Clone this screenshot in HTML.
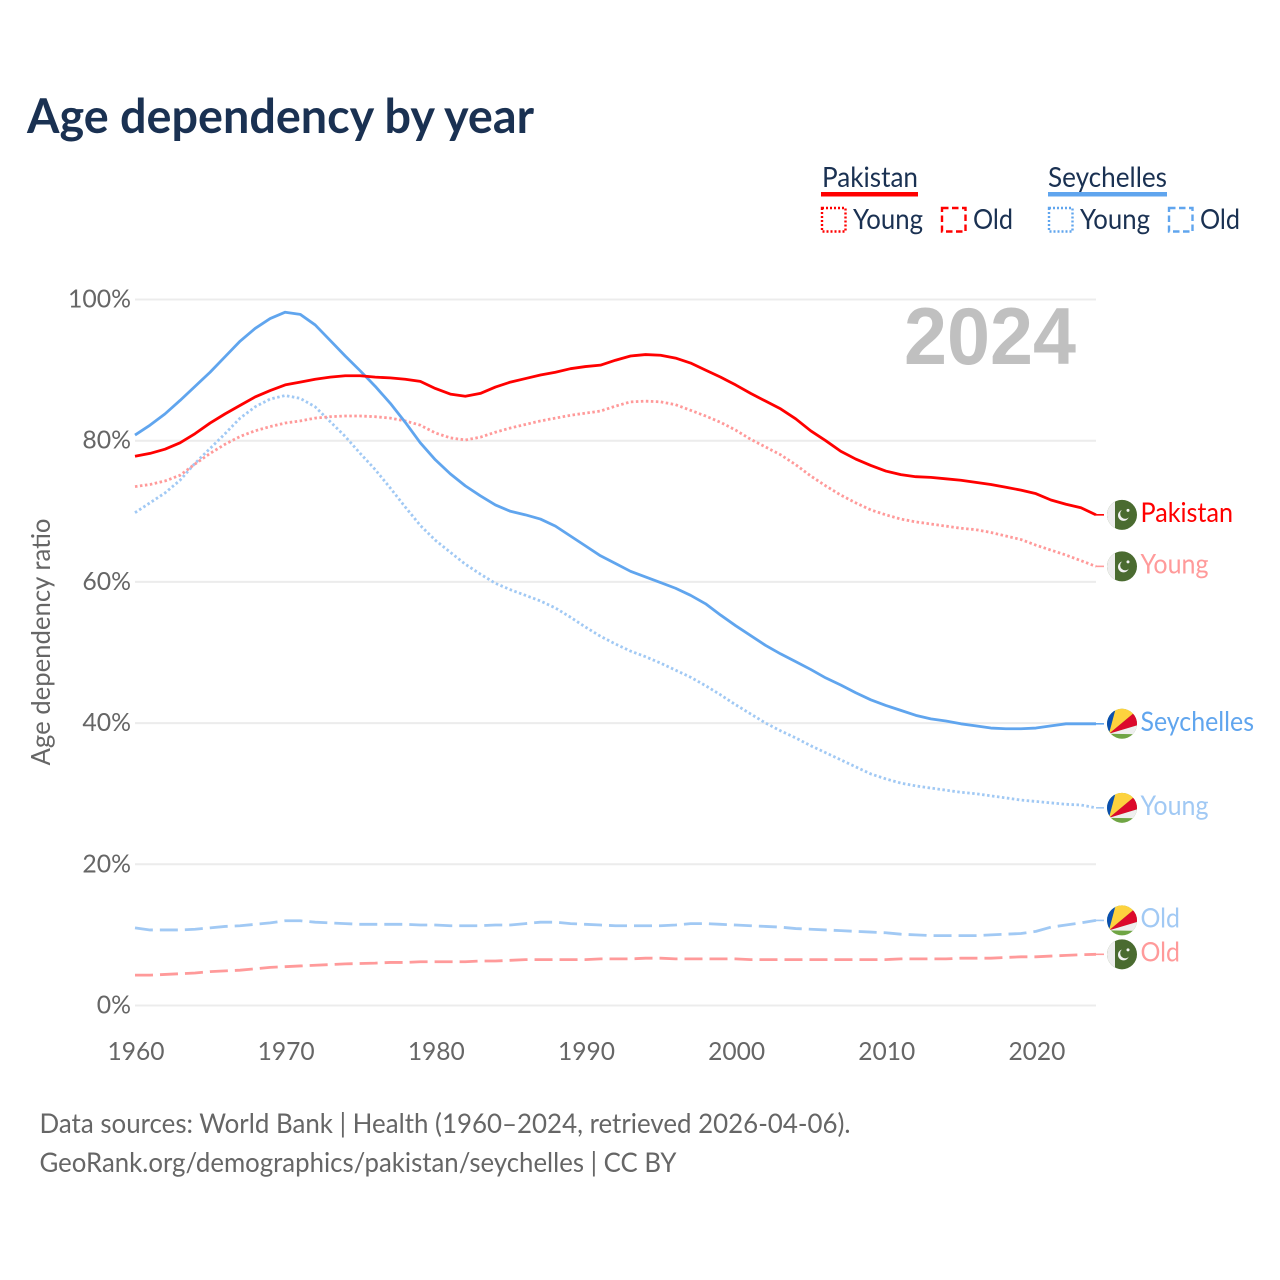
<!DOCTYPE html>
<html>
<head>
<meta charset="utf-8">
<title>Age dependency by year</title>
<style>
html,body{margin:0;padding:0;background:#fff;}
svg{display:block;}
text{font-family:"Lato","Carlito","Liberation Sans",sans-serif;}
</style>
</head>
<body>
<svg id="chart" xmlns="http://www.w3.org/2000/svg" width="1280" height="1280" viewBox="0 0 1280 1280">
  <defs>
    <clipPath id="flag-clip"><circle cx="0" cy="0" r="15"/></clipPath>
    <symbol id="flag-pk" overflow="visible">
      <g clip-path="url(#flag-clip)">
        <rect x="-16" y="-16" width="32" height="32" fill="#4a6b30"/>
        <rect x="-16" y="-16" width="9" height="32" fill="#eeeeee"/>
        <circle cx="1.5" cy="0.5" r="5.5" fill="#f2f2f2"/>
        <circle cx="3.2" cy="-1" r="5" fill="#4a6b30"/>
        <circle cx="6" cy="-4.5" r="1.5" fill="#f2f2f2"/>
      </g>
    </symbol>
    <symbol id="flag-sc" overflow="visible">
      <g clip-path="url(#flag-clip)">
        <rect x="-16" y="-16" width="32" height="32" fill="#6fa544"/>
        <polygon points="-13,10 -20,-20 -5,-20" fill="#0a4fb0"/>
        <polygon points="-13,10 -5,-20 20,-20 11,-10" fill="#fdd23e"/>
        <polygon points="-13,10 11,-10 20,-14 20,0" fill="#dc0a2c"/>
        <polygon points="-13,10 20,0 20,10.500" fill="#efefef"/>
      </g>
    </symbol>
  </defs>

  <text x="27" y="133" font-size="48" font-weight="700" fill="#1a3152" textLength="507" lengthAdjust="spacingAndGlyphs">Age dependency by year</text>

  <g font-size="27.8" fill="#1a3152">
    <text x="822" y="187" textLength="96" lengthAdjust="spacingAndGlyphs">Pakistan</text>
    <rect x="821" y="192" width="97" height="4.5" fill="#ff0000"/>
    <rect x="822" y="208" width="23.500" height="23.500" fill="none" stroke="#ff0000" stroke-width="2.4" stroke-dasharray="2 2"/>
    <text x="853" y="229" textLength="70" lengthAdjust="spacingAndGlyphs">Young</text>
    <rect x="942" y="208" width="23.500" height="23.500" fill="none" stroke="#ff0000" stroke-width="2.4" stroke-dasharray="6.500 3.500"/>
    <text x="973" y="229" textLength="40" lengthAdjust="spacingAndGlyphs">Old</text>
    <text x="1048" y="187" textLength="119" lengthAdjust="spacingAndGlyphs">Seychelles</text>
    <rect x="1048" y="192" width="119" height="4.5" fill="#60a5ee"/>
    <rect x="1049" y="208" width="23.500" height="23.500" fill="none" stroke="#60a5ee" stroke-width="2.4" stroke-dasharray="2 2"/>
    <text x="1080" y="229" textLength="70" lengthAdjust="spacingAndGlyphs">Young</text>
    <rect x="1169" y="208" width="23.500" height="23.500" fill="none" stroke="#60a5ee" stroke-width="2.4" stroke-dasharray="6.500 3.500"/>
    <text x="1200" y="229" textLength="40" lengthAdjust="spacingAndGlyphs">Old</text>
  </g>

  <g id="grid"></g>
  <g id="yticks"></g>
  <g id="xticks"></g>

  <text transform="translate(50,642) rotate(-90)" text-anchor="middle" font-size="25.8" fill="#666666" textLength="247" lengthAdjust="spacingAndGlyphs">Age dependency ratio</text>

  <text x="904" y="364" font-size="81" font-weight="700" fill="#c0c0c0" textLength="172" lengthAdjust="spacingAndGlyphs" style="font-family:'Liberation Sans',sans-serif">2024</text>

  <g id="series"></g>
  <g id="ends"></g>

  <g font-size="26.8" fill="#666666">
    <text x="39.5" y="1133" textLength="811" lengthAdjust="spacingAndGlyphs">Data sources: World Bank | Health (1960–2024, retrieved 2026-04-06).</text>
    <text x="39.5" y="1172" textLength="637" lengthAdjust="spacingAndGlyphs">GeoRank.org/demographics/pakistan/seychelles | CC BY</text>
  </g>
</svg>
<script>
const years = [];
for (let yr = 1960; yr <= 2024; yr++) years.push(yr);

const xTickLabels = [1960, 1970, 1980, 1990, 2000, 2010, 2020];
const yTickLabels = [0, 20, 40, 60, 80, 100];

const seychellesTotal = [80.8,82.2,83.8,85.7,87.7,89.7,91.9,94.1,95.9,97.3,98.2,97.9,96.4,94.2,92.0,89.9,87.7,85.3,82.6,79.7,77.3,75.3,73.6,72.2,70.9,70.0,69.5,68.9,67.9,66.5,65.1,63.7,62.6,61.5,60.7,59.9,59.1,58.1,56.9,55.3,53.8,52.4,51.0,49.8,48.7,47.6,46.4,45.4,44.3,43.3,42.5,41.8,41.1,40.6,40.3,39.9,39.6,39.3,39.2,39.2,39.3,39.6,39.9,39.9,39.9];
const pakistanTotal = [77.8,78.2,78.8,79.7,81.0,82.5,83.8,85.0,86.2,87.1,87.9,88.3,88.7,89.0,89.2,89.2,89.0,88.9,88.7,88.4,87.4,86.6,86.3,86.7,87.6,88.3,88.8,89.3,89.7,90.2,90.5,90.7,91.4,92.0,92.2,92.1,91.7,91.0,90.0,89.0,87.9,86.7,85.6,84.5,83.1,81.4,80.0,78.5,77.4,76.5,75.7,75.2,74.9,74.8,74.6,74.4,74.1,73.8,73.4,73.0,72.5,71.6,71.0,70.5,69.5];
const pakistanYoung = [73.5,73.8,74.3,75.1,76.7,78.2,79.5,80.6,81.4,82.0,82.5,82.8,83.2,83.4,83.5,83.5,83.4,83.2,82.8,82.2,81.1,80.4,80.1,80.5,81.2,81.8,82.3,82.8,83.2,83.6,83.9,84.2,84.9,85.5,85.6,85.5,85.1,84.3,83.5,82.6,81.5,80.2,79.1,78.0,76.6,75.0,73.6,72.3,71.2,70.2,69.5,68.9,68.5,68.2,67.9,67.6,67.4,67.0,66.5,66.0,65.2,64.5,63.8,63.0,62.2];
const seychellesYoung = [69.8,71.2,72.6,74.4,76.8,78.9,81.0,83.2,84.8,85.9,86.4,86.0,84.8,82.7,80.6,78.2,75.9,73.3,70.6,68.0,65.9,64.2,62.5,61.1,59.8,58.9,58.1,57.3,56.3,55.0,53.6,52.3,51.2,50.2,49.4,48.5,47.5,46.5,45.3,44.0,42.6,41.3,40.0,38.9,37.9,36.8,35.8,34.8,33.8,32.8,32.1,31.5,31.1,30.8,30.5,30.2,30.0,29.7,29.4,29.1,28.9,28.7,28.5,28.4,28.0];
const seychellesOld = [11.0,10.7,10.7,10.7,10.8,11.0,11.2,11.3,11.5,11.7,12.0,12.0,11.8,11.7,11.6,11.5,11.5,11.5,11.5,11.4,11.4,11.3,11.3,11.3,11.4,11.4,11.6,11.8,11.8,11.6,11.5,11.4,11.3,11.3,11.3,11.3,11.4,11.6,11.6,11.5,11.4,11.3,11.2,11.1,10.9,10.8,10.7,10.6,10.5,10.4,10.3,10.1,10.0,9.9,9.9,9.9,9.9,10.0,10.1,10.2,10.5,11.1,11.4,11.7,12.05];
const pakistanOld = [4.3,4.3,4.4,4.5,4.6,4.8,4.9,5.0,5.2,5.4,5.5,5.6,5.7,5.8,5.9,5.95,6.0,6.1,6.1,6.2,6.2,6.2,6.2,6.3,6.3,6.4,6.5,6.5,6.5,6.5,6.5,6.6,6.6,6.6,6.7,6.7,6.6,6.6,6.6,6.6,6.6,6.5,6.5,6.5,6.5,6.5,6.5,6.5,6.5,6.5,6.5,6.6,6.6,6.6,6.6,6.7,6.7,6.7,6.8,6.9,6.9,7.0,7.1,7.2,7.25];

const NS = 'http://www.w3.org/2000/svg';
const xLeft = 135, xRight = 1096, yZero = 1005.5, yHundred = 299.5;
function xScale(year) { return xLeft + (year - 1960) * (xRight - xLeft) / 64; }
function yScale(value) { return yZero - value * (yZero - yHundred) / 100; }
function mk(tag, attrs, parent) {
  const el = document.createElementNS(NS, tag);
  for (const k in attrs) el.setAttribute(k, attrs[k]);
  parent.appendChild(el);
  return el;
}

const gridG = document.getElementById('grid');
const yG = document.getElementById('yticks');
const xG = document.getElementById('xticks');

yTickLabels.forEach(function (v) {
  const line = mk('line', { x1: xLeft, x2: xRight, y1: yScale(v), y2: yScale(v), stroke: '#ececec', 'stroke-width': 2 }, gridG);
  
  
  const t = mk('text', { x: 131, y: yScale(v) + 8, 'text-anchor': 'end', 'font-size': 24.8, fill: '#666666' }, yG);
  
  
  t.textContent = v + '%';
});

xTickLabels.forEach(function (yr) {
  const t = mk('text', { x: xScale(yr) + 1, y: 1060, 'text-anchor': 'middle', 'font-size': 24.8, fill: '#666666', textLength: 57, lengthAdjust: 'spacingAndGlyphs' }, xG);
  
  
  t.textContent = yr;
});

const seriesG = document.getElementById('series');
const endsG = document.getElementById('ends');

function drawSeries(key, values, color, dash, flag, label, labelColor, labelWidth) {
  const pts = values.map(function (v, i) { return xScale(years[i]).toFixed(2) + ',' + yScale(v).toFixed(2); }).join(' ');
  const attrs = { points: pts, fill: 'none', stroke: color, 'stroke-width': 2.8, 'stroke-linejoin': 'round' };
  if (dash) attrs['stroke-dasharray'] = dash;
  const line = mk('polyline', attrs, seriesG);
  
  

  const endY = yScale(values[values.length - 1]);
  const conn = mk('line', { x1: xRight, x2: 1104, y1: endY, y2: endY, stroke: color, 'stroke-width': 1.6 }, endsG);
  
  

  const icon = mk('use', { href: '#' + flag, x: 1122, y: endY }, endsG);
  
  

  const t = mk('text', { x: 1140.5, y: endY + 7, 'font-size': 26.8, fill: labelColor, textLength: labelWidth, lengthAdjust: 'spacingAndGlyphs' }, endsG);
  
  
  t.textContent = label;
}

const RED = '#ff0000', BLUE = '#60a5ee', PINK = '#ff9a9a', SKY = '#a1c9f4';
drawSeries('seychelles-old', seychellesOld, SKY, '18 7', 'flag-sc', 'Old', SKY, 39.5);
drawSeries('pakistan-old', pakistanOld, PINK, '18 7', 'flag-pk', 'Old', PINK, 39.5);
drawSeries('seychelles-young', seychellesYoung, SKY, '2.5 2.5', 'flag-sc', 'Young', SKY, 68);
drawSeries('pakistan-young', pakistanYoung, PINK, '2.5 2.5', 'flag-pk', 'Young', PINK, 68);
drawSeries('seychelles-total', seychellesTotal, BLUE, null, 'flag-sc', 'Seychelles', BLUE, 113.5);
drawSeries('pakistan-total', pakistanTotal, RED, null, 'flag-pk', 'Pakistan', RED, 92.5);
</script>
</body>
</html>
